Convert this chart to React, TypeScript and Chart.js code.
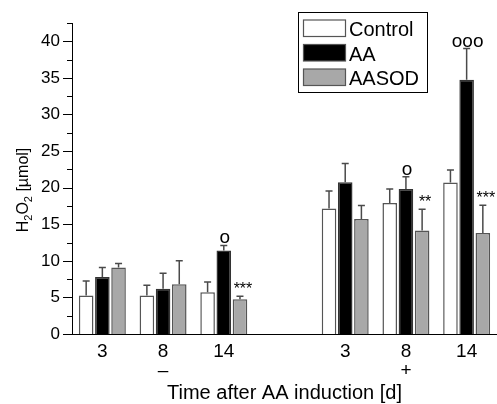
import { useEffect, useRef } from "react";
import { Chart, registerables } from "chart.js";

Chart.register(...registerables);

const FONT = "'Liberation Sans', Arial, Helvetica, sans-serif";

// ---- data ----
const dayLabels = ["3", "8", "14", "", "3", "8", "14"];
const treatmentMarks = ["", "–", "", "", "", "+", ""];

const seriesNames = ["Control", "AA", "AASOD"];

const controlValues = [5.25, 5.25, 5.7, null, 17.15, 17.9, 20.7];
const controlErrors = [2.0, 1.4, 1.4, null, 2.4, 1.9, 1.7];

const aaValues = [7.8, 6.2, 11.4, null, 20.75, 19.8, 34.75];
const aaErrors = [1.3, 2.1, 0.7, null, 2.55, 1.7, 4.25];

const aasodValues = [9.1, 6.8, 4.75, null, 15.7, 14.15, 13.8];
const aasodErrors = [0.55, 3.2, 0.4, null, 1.85, 2.9, 3.8];

const aaMarks = ["", "", "o", "", "", "o", "ooo"];
const aasodMarks = ["", "", "***", "", "", "**", "***"];

const yMin = 0;
const yMax = 42.5;
const yStep = 2.5;

const xTitle = "Time after AA induction [d]";

// ---- plugins ----
const errorBarPlugin = {
  id: "errorBars",
  afterDatasetsDraw(chart: any) {
    const ctx = chart.ctx;
    const ys = chart.scales.y;
    chart.data.datasets.forEach((ds: any, i: number) => {
      const meta = chart.getDatasetMeta(i);
      meta.data.forEach((el: any, j: number) => {
        const v = ds.data[j];
        const e = ds.errors ? ds.errors[j] : null;
        if (v == null || e == null) return;
        const top = ys.getPixelForValue(v + e);
        const base = ys.getPixelForValue(v);
        ctx.save();
        ctx.strokeStyle = "#4a4a4a";
        ctx.lineWidth = 1.5;
        ctx.beginPath();
        ctx.moveTo(el.x, base);
        ctx.lineTo(el.x, top);
        ctx.moveTo(el.x - 3.5, top);
        ctx.lineTo(el.x + 3.5, top);
        ctx.stroke();
        const m = ds.marks ? ds.marks[j] : "";
        if (m) {
          ctx.fillStyle = "#000";
          ctx.font = ds.markFont;
          ctx.textAlign = "center";
          ctx.textBaseline = "alphabetic";
          ctx.fillText(m, el.x + (ds.markDx || 0), top - 2);
        }
        ctx.restore();
      });
    });
  },
};

const axisDecorPlugin = {
  id: "axisDecor",
  afterDraw(chart: any) {
    const ctx = chart.ctx;
    const ys = chart.scales.y;
    const x0 = chart.chartArea.left;
    ctx.save();
    ctx.strokeStyle = "#000";
    ctx.lineWidth = 1;
    ys.ticks.forEach((t: any) => {
      const py = Math.round(ys.getPixelForValue(t.value)) + 0.5;
      const major = Math.abs(t.value % 5) < 1e-6;
      const len = major ? 9 : 5;
      ctx.beginPath();
      ctx.moveTo(x0 - len, py);
      ctx.lineTo(x0, py);
      ctx.stroke();
    });
    // y title with subscripts
    const parts: [string, boolean][] = [
      ["H", false],
      ["2", true],
      ["O", false],
      ["2", true],
      [" [µmol]", false],
    ];
    const mainFont = `16px ${FONT}`;
    const subFont = `11px ${FONT}`;
    let total = 0;
    parts.forEach(([s, sub]) => {
      ctx.font = sub ? subFont : mainFont;
      total += ctx.measureText(s).width;
    });
    const cy = 190;
    ctx.translate(28, cy);
    ctx.rotate(-Math.PI / 2);
    ctx.fillStyle = "#000";
    ctx.textBaseline = "alphabetic";
    ctx.textAlign = "left";
    let px = -total / 2;
    parts.forEach(([s, sub]) => {
      ctx.font = sub ? subFont : mainFont;
      ctx.fillText(s, px, sub ? 4 : 0);
      px += ctx.measureText(s).width;
    });
    ctx.restore();

    // legend
    const lx = 298.5, ly = 12.5, lw = 129, lh = 80;
    ctx.save();
    ctx.fillStyle = "#fff";
    ctx.fillRect(lx, ly, lw, lh);
    ctx.strokeStyle = "#000";
    ctx.lineWidth = 1;
    ctx.strokeRect(lx, ly, lw, lh);
    chart.data.datasets.forEach((ds: any, i: number) => {
      const sy = 20 + i * 24.5;
      ctx.fillStyle = ds.backgroundColor;
      ctx.fillRect(303.5, sy, 42, 16.5);
      ctx.strokeStyle = "#555";
      ctx.lineWidth = 1.2;
      ctx.strokeRect(303.5, sy, 42, 16.5);
      ctx.fillStyle = "#000";
      ctx.font = `20px ${FONT}`;
      ctx.textBaseline = "alphabetic";
      ctx.textAlign = "left";
      ctx.fillText(ds.label, 349, sy + 16);
    });
    ctx.restore();
  },
};

export default function App() {
  const ref = useRef<HTMLCanvasElement | null>(null);

  useEffect(() => {
    if (!ref.current) return;
    const labels = dayLabels.map((d, i) =>
      treatmentMarks[i] ? [d, treatmentMarks[i]] : d
    );
    const chart = new Chart(ref.current, {
      type: "bar",
      data: {
        labels,
        datasets: [
          {
            label: seriesNames[0],
            data: controlValues,
            errors: controlErrors,
            marks: [],
            backgroundColor: "#ffffff",
            borderColor: "#555555",
            borderWidth: 1.5,
          },
          {
            label: seriesNames[1],
            data: aaValues,
            errors: aaErrors,
            marks: aaMarks,
            markFont: `19px ${FONT}`,
            markDx: 1,
            backgroundColor: "#000000",
            borderColor: "#333333",
            borderWidth: 1.5,
          },
          {
            label: seriesNames[2],
            data: aasodValues,
            errors: aasodErrors,
            marks: aasodMarks,
            markFont: `16px ${FONT}`,
            markDx: 3,
            backgroundColor: "#a8a8a8",
            borderColor: "#555555",
            borderWidth: 1.5,
          },
        ] as any,
      },
      options: {
        responsive: false,
        animation: false,
        layout: { padding: { top: 23, left: 0, right: 0, bottom: 0 } },
        plugins: {
          legend: { display: false },
          tooltip: { enabled: false },
        },
        scales: {
          x: {
            type: "category",
            categoryPercentage: 0.8,
            barPercentage: 1.0,
            grid: { display: false, drawTicks: false, tickLength: 0 },
            border: { display: true, color: "#000", width: 1 },
            ticks: {
              color: "#000",
              font: { family: FONT, size: 19, lineHeight: 1.0 },
              padding: 8,
              maxRotation: 0,
              autoSkip: false,
            },
            title: {
              display: true,
              text: xTitle,
              color: "#000",
              font: { family: FONT, size: 20, lineHeight: 1.0 },
              padding: { top: 0, bottom: 1 },
            },
            afterFit(scale: any) {
              scale.height = 70;
            },
          } as any,
          y: {
            min: yMin,
            max: yMax,
            grid: { display: false, drawTicks: false, tickLength: 0 },
            border: { display: true, color: "#000", width: 1 },
            ticks: {
              stepSize: yStep,
              color: "#000",
              font: { family: FONT, size: 17 },
              padding: 12,
              autoSkip: false,
              callback: (v: any) =>
                Math.abs(Number(v) % 5) < 1e-6 ? String(v) : "",
            },
            afterFit(scale: any) {
              scale.width = 72;
            },
          } as any,
        },
      } as any,
      plugins: [errorBarPlugin, axisDecorPlugin],
    });
    return () => chart.destroy();
  }, []);

  return (
    <div style={{ position: "absolute", left: 0, top: 0, width: 497, height: 404 }}>
      <canvas ref={ref} width={497} height={404} style={{ display: "block" }} />
    </div>
  );
}
